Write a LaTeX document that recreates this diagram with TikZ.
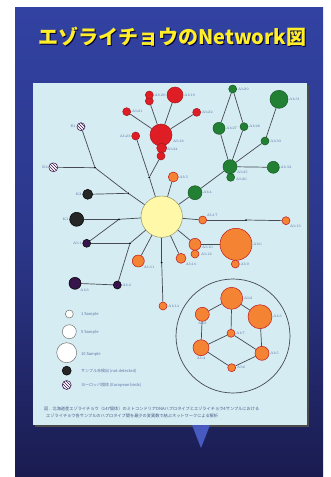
\documentclass[tikz,border=0pt]{standalone}
\usepackage{fontspec}
\newfontfamily\jpfont{Noto Sans CJK JP}
\usetikzlibrary{patterns}

\definecolor{slideblue}{RGB}{50,66,162}
\definecolor{slidenavy}{RGB}{26,28,80}
\definecolor{panelcyan}{RGB}{212,236,242}
\definecolor{titleyellow}{RGB}{255,238,40}
\definecolor{hapred}{RGB}{222,30,36}
\definecolor{hapgreen}{RGB}{34,128,52}
\definecolor{haporange}{RGB}{244,132,52}
\definecolor{happurple}{RGB}{56,20,76}
\definecolor{hapyellow}{RGB}{255,248,168}
\definecolor{edgegray}{RGB}{70,72,82}
\definecolor{lblblue}{RGB}{96,116,168}
\definecolor{arrowblue}{RGB}{70,90,192}

\begin{document}
\begin{tikzpicture}[x=1pt,y=-1pt,
  hap/.style={circle,inner sep=0pt,line width=0.5pt},
  redhap/.style={hap,fill=hapred,draw=hapred!75!black},
  greenhap/.style={hap,fill=hapgreen,draw=hapgreen!70!black},
  orangehap/.style={hap,fill=haporange,draw=hapred!85!black},
  purplehap/.style={hap,fill=happurple,draw=black},
  blackhap/.style={hap,fill=black!85,draw=black},
  hatchhap/.style={hap,draw=happurple,fill=white,postaction={pattern=north west lines,pattern color=happurple}},
  keyhap/.style={hap,fill=white,draw=black!55},
  jn/.style={circle,fill=black,inner sep=0pt,minimum size=2pt},
  link/.style={draw=edgegray,line width=0.7pt},
  lbl/.style={font=\fontsize{3.6}{4}\selectfont,text=lblblue,inner sep=0.6pt},
  keytext/.style={font=\jpfont\fontsize{4}{5}\selectfont,text=lblblue,anchor=west,inner sep=0pt}]
\useasboundingbox (0,0) rectangle (330,477);
\fill[white] (0,0) rectangle (330,477);
\shade[top color=slideblue,bottom color=slidenavy,middle color=slideblue!70!slidenavy] (15,7) rectangle (323,477);
% title
\node[text=black!80!blue] at (173.5,38) {\jpfont\bfseries\fontsize{20}{22}\selectfont エゾライチョウのNetwork図};
\node[text=titleyellow] (title) at (172.5,37) {\jpfont\bfseries\fontsize{20}{22}\selectfont エゾライチョウのNetwork図};
% panel
\fill[black!70] (35,85) rectangle (309,427);
\fill[panelcyan] (33,83) rectangle (307,425);
\fill[arrowblue] (192,425) -- (210,425) -- (201,448) -- cycle;

% centre
\node[hap,fill=hapyellow,draw=hapyellow!60!black,minimum size=41.4] (Y) at (161.7,216.7) {};

% red group
\node[redhap,minimum size=22] (R1) at (161,135) {};
\node[redhap,minimum size=10] (R1b) at (161.7,148) {};
\node[redhap,minimum size=8] (R1c) at (161,156) {};
\node[redhap,minimum size=16,label={[lbl]right:Ab19}] (R2) at (175,95) {};
\node[redhap,minimum size=8] (R3b) at (149.3,101) {};
\node[redhap,minimum size=8,label={[lbl]right:Ab20}] (R3) at (149.3,95) {};
\node[redhap,minimum size=8,label={[lbl]right:Ab21}] (R4) at (126.7,111.7) {};
\node[redhap,minimum size=8,label={[lbl]right:Ab22}] (R5) at (196.7,112.3) {};
\node[redhap,minimum size=8,label={[lbl]left:Ab23}] (R6) at (135.7,136) {};
\node[lbl,anchor=west] (lR1) at (172,141) {Ab18};
\node[lbl,anchor=west] (lR1b) at (166,149) {Ab24};
\node[jn] (j1) at (149.3,177.3) {};
\draw[link] (R1) -- (R2);
\draw[link] (R1) -- (R3b);
\draw[link] (R1) -- (R4);
\draw[link] (R1) -- (R5);
\draw[link] (R6) -- (j1);
\draw[link] (R1c) -- (j1);
\draw[link] (j1) -- (Y);

% left group
\node[hatchhap,minimum size=8,label={[lbl]left:E1}] (H1) at (81,126.7) {};
\node[hatchhap,minimum size=9,label={[lbl]left:E2}] (H2) at (53.3,167.3) {};
\node[jn] (j2) at (95,167.7) {};
\node[jn] (j3) at (128.3,193.3) {};
\node[blackhap,minimum size=10,label={[lbl]left:K2}] (K2) at (87.7,194.3) {};
\node[blackhap,minimum size=14,label={[lbl]left:K1}] (K1) at (76.7,219.3) {};
\node[jn] (j4) at (119,219.3) {};
\node[purplehap,minimum size=8,label={[lbl]left:Ab1}] (P1) at (86.7,243.3) {};
\node[jn] (j5) at (130,243.3) {};
\node[purplehap,minimum size=8,label={[lbl]right:Ab2}] (P2) at (117.3,285) {};
\node[purplehap,minimum size=12,label={[lbl]below right:Ab3}] (P3) at (75,283.3) {};
\draw[link] (H1) -- (j2);
\draw[link] (H2) -- (j2);
\draw[link] (j2) -- (j3);
\draw[link] (K2) -- (j3);
\draw[link] (j3) -- (Y);
\draw[link] (K1) -- (j4);
\draw[link] (j4) -- (Y);
\draw[link] (j4) -- (P1);
\draw[link] (P1) -- (j5);
\draw[link] (j5) -- (Y);
\draw[link] (j5) -- (P2);
\draw[link] (P2) -- (P3);

% orange group
\node[jn] (j6) at (161.7,262.7) {};
\node[orangehap,minimum size=8,label={[lbl]right:Ab14}] (O14) at (163,306) {};
\node[orangehap,minimum size=10,label={[lbl]right:Ab5}] (O5) at (173.3,177) {};
\node[orangehap,minimum size=12,label={[lbl]below right:Ab11}] (O11) at (138.3,261) {};
\node[orangehap,minimum size=10,label={[lbl]below right:Ab16}] (O16) at (181,258.3) {};
\node[orangehap,minimum size=12] (O10) at (195,244.3) {};
\node[orangehap,minimum size=8] (O12) at (195,254) {};
\node[lbl,anchor=west] (lO10) at (201,247) {Ab10};
\node[lbl,anchor=west] (lO12) at (200,254) {Ab12};
\node[orangehap,minimum size=32,label={[lbl]right:Ab6}] (O6) at (236,244.3) {};
\node[orangehap,minimum size=8,label={[lbl]right:Ab9}] (O9) at (235.3,264) {};
\node[orangehap,minimum size=8,label={[lbl]above right:Ab17}] (O17) at (202.7,220) {};
\node[jn] (j7) at (246,220) {};
\node[orangehap,minimum size=8,label={[lbl]below right:Ab13}] (O13) at (286,220.7) {};
\draw[link] (Y) -- (j6);
\draw[link] (j6) -- (O14);
\draw[link] (O5) -- (Y);
\draw[link] (O11) -- (Y);
\draw[link] (O16) -- (Y);
\draw[link] (O10) -- (Y);
\draw[link] (O10) -- (O6);
\draw[link] (Y) -- (O17);
\draw[link] (O17) -- (j7);
\draw[link] (j7) -- (O13);

% green group
\node[greenhap,minimum size=14,label={[lbl]right:Ab4}] (G1) at (195,192.7) {};
\node[greenhap,minimum size=14] (GJ) at (230,166.7) {};
\node[greenhap,minimum size=8] (GJb) at (230.7,177.3) {};
\node[lbl,anchor=west] (lGJ) at (236,172) {Ab25};
\node[lbl,anchor=west] (lGJb) at (235,179) {Ab26};
\node[greenhap,minimum size=12,label={[lbl]right:Ab27}] (GL) at (219,128.3) {};
\node[greenhap,minimum size=8,label={[lbl]right:Ab28}] (GM) at (244,126.7) {};
\node[greenhap,minimum size=8,label={[lbl]right:Ab29}] (GT) at (232.7,89) {};
\node[greenhap,minimum size=8,label={[lbl]right:Ab30}] (GS) at (265,141) {};
\node[greenhap,minimum size=18,label={[lbl]right:Ab31}] (GB) at (279,99.3) {};
\node[greenhap,minimum size=12,label={[lbl]right:Ab32}] (GR) at (273.3,167.3) {};
\draw[link] (G1) -- (Y);
\draw[link] (G1) -- (GJ);
\draw[link] (GJ) -- (GL);
\draw[link] (GJ) -- (GM);
\draw[link] (GL) -- (GT);
\draw[link] (GM) -- (GT);
\draw[link] (GJ) -- (GS);
\draw[link] (GS) -- (GB);
\draw[link] (GJ) -- (GR);

% ring
\draw[edgegray,line width=0.7pt] (233,336) circle (57);
\node[orangehap,minimum size=22,label={[lbl]right:Ab2}] (A2) at (231.7,298.3) {};
\node[orangehap,minimum size=24,label={[lbl]right:Ab3}] (A3) at (260,316.7) {};
\node[orangehap,minimum size=14,label={[lbl]below:Ab8}] (AL) at (202.3,314.3) {};
\node[orangehap,minimum size=8,label={[lbl]right:Ab7}] (AC) at (231,333.3) {};
\node[orangehap,minimum size=16,label={[lbl]below:Ab4}] (ALL) at (201,347.7) {};
\node[orangehap,minimum size=14,label={[lbl]right:Ab5}] (ALR) at (262,353.3) {};
\node[orangehap,minimum size=8,label={[lbl]right:Ab6}] (AB) at (231.7,367.7) {};
\draw[link] (A2) -- (AL);
\draw[link] (A2) -- (A3);
\draw[link] (A2) -- (AC);
\draw[link] (AL) -- (ALL);
\draw[link] (A3) -- (ALR);
\draw[link] (AC) -- (ALL);
\draw[link] (AC) -- (ALR);
\draw[link] (ALL) -- (AB);
\draw[link] (AB) -- (ALR);

% key
\node[keyhap,minimum size=8] (key1) at (69.3,314) {};
\node[keyhap,minimum size=14] (key5) at (69.3,331.7) {};
\node[keyhap,minimum size=20] (key10) at (66.7,352.7) {};
\node[blackhap,minimum size=9] (keyK) at (66.7,370.7) {};
\node[hatchhap,minimum size=9] (keyH) at (66.7,385) {};
\node[keytext] (tkey1) at (81,314) {1 Sample};
\node[keytext] (tkey5) at (81,332) {5 Sample};
\node[keytext] (tkey10) at (81,354) {10 Sample};
\node[keytext] (tkeyK) at (81,371) {サンプル未検出 (not detected)};
\node[keytext] (tkeyH) at (81,385) {ヨーロッパ個体 (European birds)};

% caption
\node[keytext,font=\jpfont\fontsize{4.2}{5}\selectfont,text=lblblue!80!black] (cap1) at (44,409) {図．北海道産エゾライチョウ（147個体）のミトコンドリアDNAハプロタイプとエゾライチョウ4サンプルにおける};
\node[keytext,font=\jpfont\fontsize{4.2}{5}\selectfont,text=lblblue!80!black] (cap2) at (46,416) {エゾライチョウ各サンプルのハプロタイプ間を最少の変異数で結ぶネットワークによる解析};
\end{tikzpicture}
\end{document}
